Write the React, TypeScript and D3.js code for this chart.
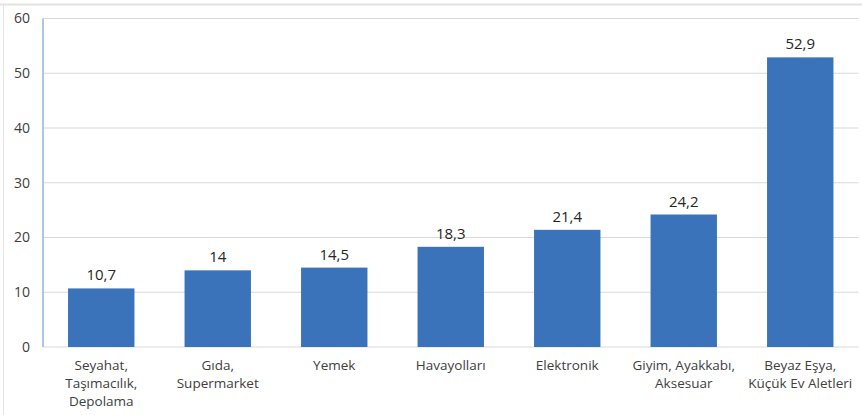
import React from "react";
import * as d3 from "d3";

const categories: string[][] = [
  ["Seyahat,", "Taşımacılık,", "Depolama"],
  ["Gıda,", "Supermarket"],
  ["Yemek"],
  ["Havayolları"],
  ["Elektronik"],
  ["Giyim, Ayakkabı,", "Aksesuar"],
  ["Beyaz Eşya,", "Küçük Ev Aletleri"],
];
const values: number[] = [10.7, 14, 14.5, 18.3, 21.4, 24.2, 52.9];
const valueLabels: string[] = ["10,7", "14", "14,5", "18,3", "21,4", "24,2", "52,9"];
const yTicks: number[] = [0, 10, 20, 30, 40, 50, 60];

const W = 862;
const H = 415;
const left = 43;
const right = 858.5;
const top = 18.5;
const bottom = 347;
const font = "'Open Sans', 'Noto Sans', sans-serif";

export default function App() {
  const ids = categories.map((_, i) => String(i));
  const x = d3.scaleBand<string>().domain(ids).range([left, right]).paddingInner(0.43).paddingOuter(0.215);
  const y = d3.scaleLinear().domain([0, 60]).range([bottom, top]);
  return (
    <div style={{ position: "absolute", left: 0, top: 0 }}>
      <svg width={W} height={H} style={{ display: "block", background: "#fff" }}>
        <line x1={0} x2={W} y1={4.5} y2={4.5} stroke="#e3e3e3" strokeWidth={2} />
        <line x1={3.5} x2={3.5} y1={5} y2={H} stroke="#e3e3e3" strokeWidth={1} />
        {yTicks.map((t) => (
          <g key={t}>
            {t > 0 && (
              <line x1={left} x2={right} y1={y(t)} y2={y(t)} stroke="#d9d9d9" strokeWidth={1} />
            )}
            <text
              x={30}
              y={y(t)}
              dy="0.35em"
              textAnchor="end"
              fontFamily={font}
              fontSize={14}
              fill="#404040"
            >
              {t}
            </text>
          </g>
        ))}
        <line x1={left} x2={right} y1={bottom} y2={bottom} stroke="#d9d9d9" strokeWidth={1} />
        <line x1={left} x2={left} y1={top} y2={bottom} stroke="#8eb4e3" strokeWidth={1.5} />
        {values.map((v, i) => {
          const bx = x(String(i))!;
          const bw = x.bandwidth();
          const cx = bx + bw / 2;
          return (
            <g key={i}>
              <rect x={bx} y={y(v)} width={bw} height={bottom - y(v)} fill="#3a73ba" />
              <text
                x={cx}
                y={y(v) - 8}
                textAnchor="middle"
                fontFamily={font}
                fontSize={15}
                fill="#262626"
              >
                {valueLabels[i]}
              </text>
              {categories[i].map((line, j) => (
                <text
                  key={j}
                  x={cx}
                  y={370 + j * 18}
                  textAnchor="middle"
                  fontFamily={font}
                  fontSize={13.5}
                  fill="#404040"
                >
                  {line}
                </text>
              ))}
            </g>
          );
        })}
      </svg>
    </div>
  );
}
